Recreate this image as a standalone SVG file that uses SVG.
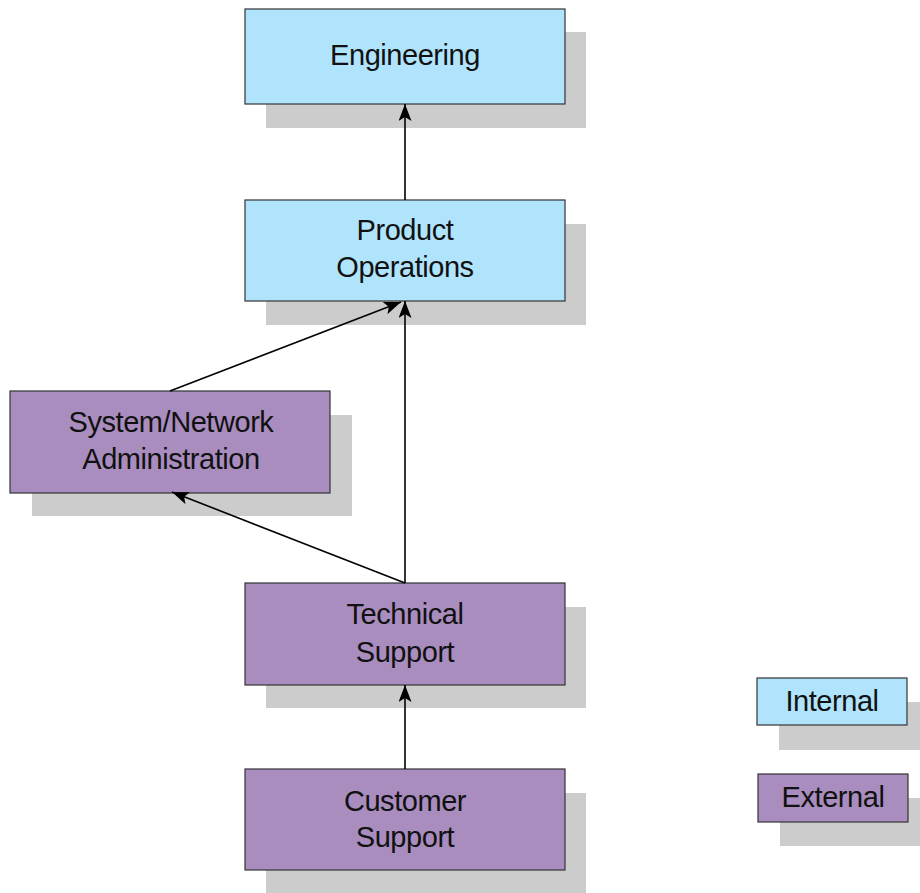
<svg xmlns="http://www.w3.org/2000/svg" width="920" height="893" viewBox="0 0 920 893">
  <style>
    .shadow { fill: #cccccc; }
    .internal { fill: #b0e4fc; stroke: #333333; stroke-width: 1.2; }
    .external { fill: #a98dbf; stroke: #333333; stroke-width: 1.2; }
    .label { font-family: "Liberation Sans", Arial, sans-serif; font-size: 29px; fill: #111111; text-anchor: middle; letter-spacing: -0.45px; }
    .conn { stroke: #000000; stroke-width: 1.6; fill: none; marker-end: url(#arrow); }
  </style>
  <defs>
    <marker id="arrow" viewBox="0 0 17 13" refX="17" refY="6.5" markerWidth="17" markerHeight="13" markerUnits="userSpaceOnUse" orient="auto">
      <path d="M0,0 L17,6.5 L0,13 L4,6.5 Z" fill="#000000"/>
    </marker>
  </defs>

  <rect width="920" height="893" fill="#ffffff"/>

  <g id="engineering">
    <rect class="shadow" x="266" y="32" width="320" height="96"/>
    <rect class="internal" x="245" y="9" width="320" height="95"/>
    <text class="label" x="405" y="65">Engineering</text>
  </g>

  <g id="product-operations">
    <rect class="shadow" x="266" y="224" width="320" height="101"/>
    <rect class="internal" x="245" y="200" width="320" height="101"/>
    <text class="label" x="405" y="240">Product</text>
    <text class="label" x="405" y="277">Operations</text>
  </g>

  <g id="sysnet-admin">
    <rect class="shadow" x="32" y="415" width="320" height="101"/>
    <rect class="external" x="10" y="391" width="320" height="102"/>
    <text class="label" x="171" y="432">System/Network</text>
    <text class="label" x="171" y="469">Administration</text>
  </g>

  <g id="technical-support">
    <rect class="shadow" x="266" y="607" width="320" height="101"/>
    <rect class="external" x="245" y="583" width="320" height="102"/>
    <text class="label" x="405" y="624">Technical</text>
    <text class="label" x="405" y="662">Support</text>
  </g>

  <g id="customer-support">
    <rect class="shadow" x="266" y="793" width="320" height="100"/>
    <rect class="external" x="245" y="769" width="320" height="101"/>
    <text class="label" x="405" y="811">Customer</text>
    <text class="label" x="405" y="847">Support</text>
  </g>

  <g id="legend-internal">
    <rect class="shadow" x="779" y="702" width="141" height="48"/>
    <rect class="internal" x="757" y="678" width="150" height="47"/>
    <text class="label" x="832" y="711">Internal</text>
  </g>

  <g id="legend-external">
    <rect class="shadow" x="780" y="798" width="140" height="48"/>
    <rect class="external" x="758" y="774" width="150" height="48"/>
    <text class="label" x="833" y="807">External</text>
  </g>

  <g id="connectors">
    <line class="conn" x1="405" y1="200" x2="405" y2="104"/>
    <line class="conn" x1="405" y1="583" x2="405" y2="301"/>
    <line class="conn" x1="170" y1="391" x2="401" y2="302"/>
    <line class="conn" x1="405" y1="583" x2="172" y2="492"/>
    <line class="conn" x1="405" y1="769" x2="405" y2="685"/>
  </g>
</svg>
